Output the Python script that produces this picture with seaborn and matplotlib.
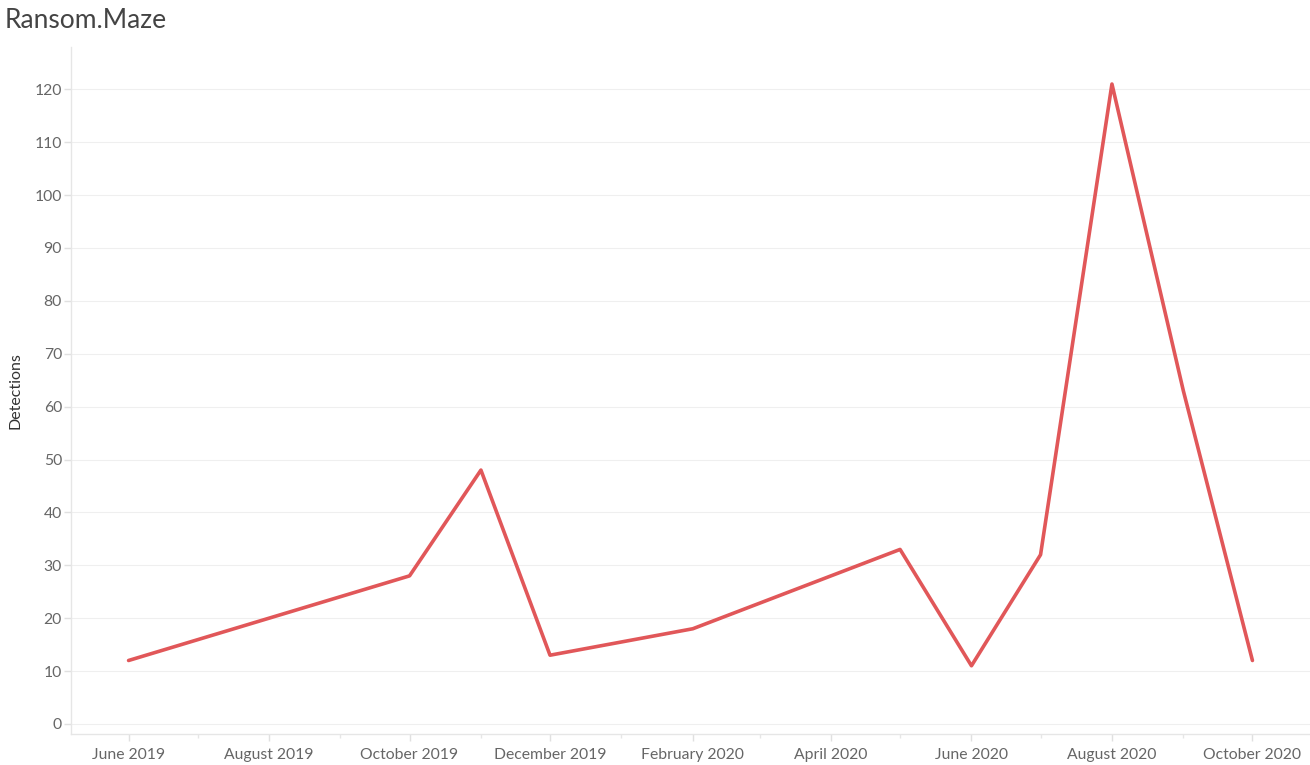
import matplotlib
matplotlib.use("Agg")
import matplotlib.pyplot as plt
import matplotlib.dates as mdates
import seaborn as sns
import pandas as pd
import numpy as np

months = ["2019-06-01", "2019-10-01", "2019-11-01", "2019-12-01", "2020-02-01",
          "2020-05-01", "2020-06-01", "2020-07-01", "2020-08-01", "2020-09-01", "2020-10-01"]
detections = [12, 28, 48, 13, 18, 33, 11, 32, 121, 63, 12]
y_ticks = [0, 10, 20, 30, 40, 50, 60, 70, 80, 90, 100, 110, 120]
x_tick_months = ["2019-06-01", "2019-08-01", "2019-10-01", "2019-12-01", "2020-02-01",
                 "2020-04-01", "2020-06-01", "2020-08-01", "2020-10-01"]

dates = pd.to_datetime(months)
df = pd.DataFrame({"Month": mdates.date2num(dates.to_pydatetime()), "Detections": detections})

sns.set_theme(style="white")
plt.rcParams['font.family'] = ['Lato', 'DejaVu Sans']

fig = plt.figure(figsize=(13.1, 7.65), dpi=100)
ax = fig.add_axes([71/1310, 31/765, (1310-71)/1310, (734-47)/765])

sns.lineplot(data=df, x="Month", y="Detections", ax=ax, color="#e15759", linewidth=2.6)

ax.set_yticks(y_ticks)
ax.yaxis.grid(True, color="#efefef", linewidth=0.8)
ax.xaxis.grid(False)

tick_dates = pd.to_datetime(x_tick_months)
ax.set_xticks(mdates.date2num(tick_dates.to_pydatetime()))
ax.set_xticklabels([d.strftime("%B %Y") for d in tick_dates])
minor = pd.date_range("2019-05-01", "2020-11-01", freq="MS")
ax.set_xticks(mdates.date2num(minor.to_pydatetime()), minor=True)

x0 = mdates.date2num(pd.Timestamp("2019-05-07").to_pydatetime())
x1 = mdates.date2num(pd.Timestamp("2020-10-26").to_pydatetime())
ax.set_ylim(-1.9, 128)
ax.set_xlim(x0, x1)

for s in ["top", "right"]:
    ax.spines[s].set_visible(False)
for s in ["left", "bottom"]:
    ax.spines[s].set_color("#e6e6e6")
    ax.spines[s].set_linewidth(1.0)

ax.tick_params(axis="both", which="major", labelsize=11.3, labelcolor="#666666",
               color="#e0e0e0", length=5, width=1, direction="out", left=True, bottom=True)
ax.tick_params(axis="y", which="major", pad=1.5)
ax.tick_params(axis="x", which="minor", color="#e6e6e6", length=3, width=1, bottom=True)
ax.tick_params(axis="x", which="major", pad=5)

ax.set_xlabel("")
ax.set_ylabel("Detections", fontsize=11.5, color="#333333", labelpad=9)

fig.text(5/1310, 1 - 20/765, "Ransom.Maze", fontsize=19, fontweight="normal",
         color="#444444", va="center", ha="left")

fig.savefig("out.png", dpi=100)
